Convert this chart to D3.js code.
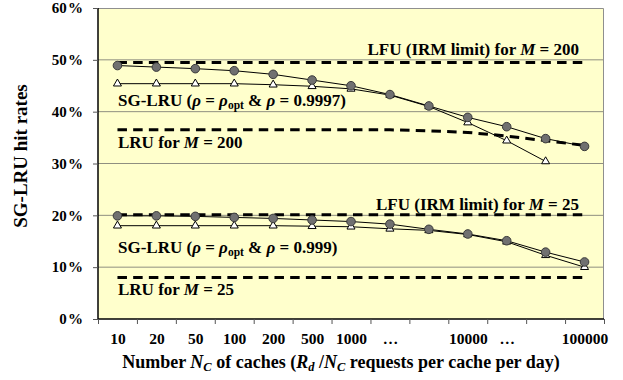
<!DOCTYPE html>
<html>
<head>
<meta charset="utf-8">
<script src="https://cdn.jsdelivr.net/npm/d3@7"></script>
<style>
    body { margin: 0; background: #fff; }
    svg text { font-family: "Liberation Serif", "Times New Roman", serif; font-weight: bold; fill: #000; }
</style>
</head>
<body>
<div id="chart"></div>
<script>
// x categories (number of caches), one slot per band
const categories = ["10", "20", "50", "100", "200", "500", "1000", "\u2026", "", "10000", "\u2026", "", "100000"];

// hit rates in %
const sgM200Opt = [48.9, 48.6, 48.3, 47.9, 47.2, 46.1, 45.0, 43.3, 41.1, 38.9, 37.1, 34.8, 33.3];
const sgM200Fix = [45.4, 45.4, 45.4, 45.4, 45.2, 44.9, 44.4, 43.2, 41.0, 37.9, 34.4, 30.4];
const lfuM200 = [49.5, 49.5, 49.5, 49.5, 49.5, 49.5, 49.5, 49.5, 49.5, 49.5, 49.5, 49.5, 49.5];
const lruM200 = [36.5, 36.5, 36.5, 36.5, 36.5, 36.5, 36.5, 36.5, 36.3, 36.0, 35.3, 34.4, 33.5];

const sgM25Opt = [19.9, 19.9, 19.8, 19.6, 19.4, 19.1, 18.8, 18.3, 17.3, 16.4, 15.1, 12.9, 11.0];
const sgM25Fix = [18.0, 18.0, 18.0, 18.0, 18.0, 17.9, 17.8, 17.4, 17.1, 16.3, 14.9, 12.3, 10.0];
const lfuM25 = [20.1, 20.1, 20.1, 20.1, 20.1, 20.1, 20.1, 20.1, 20.1, 20.1, 20.1, 20.1, 20.1];
const lruM25 = [8.0, 8.0, 8.0, 8.0, 8.0, 8.0, 8.0, 8.0, 8.0, 8.0, 8.0, 8.0, 8.0];

const yTicks = [0, 10, 20, 30, 40, 50, 60];

const W = 623, H = 380;
const margin = {top: 8, right: 19, bottom: 61, left: 98};
const width = W - margin.left - margin.right;
const height = H - margin.top - margin.bottom;
const FONT = '"Liberation Serif", "Times New Roman", serif';

const svg = d3.select("#chart").append("svg")
    .attr("width", W)
    .attr("height", H);

const g = svg.append("g")
    .attr("transform", `translate(${margin.left},${margin.top})`);

const x = d3.scaleLinear()
    .domain([-0.5, categories.length - 0.5])
    .range([0, width]);

const y = d3.scaleLinear()
    .domain([0, 60])
    .range([height, 0]);

// plot background
g.append("rect")
    .attr("width", width)
    .attr("height", height)
    .attr("fill", "#ffffcc");

// grid lines
g.selectAll(".grid")
    .data(yTicks.filter(d => d > 0 && d < 60))
    .enter().append("line")
    .attr("x1", 0)
    .attr("x2", width)
    .attr("y1", d => y(d))
    .attr("y2", d => y(d))
    .attr("stroke", "#8f8f80")
    .attr("stroke-width", 1);

// top and right frame
g.append("path")
    .attr("d", `M0,0.5H${width - 0.5}V${height}`)
    .attr("fill", "none")
    .attr("stroke", "#8f8f8f");

// y axis
const yAxis = g.append("g")
    .call(d3.axisLeft(y).tickValues(yTicks).tickSize(5).tickPadding(10)
        .tickFormat(d => `${d}\u200A%`));
yAxis.select(".domain").attr("stroke", "#000").attr("stroke-width", 1.5).attr("d", `M0,0V${height}`);
yAxis.selectAll(".tick line").attr("stroke", "#555");
yAxis.selectAll("text").style("font-family", FONT).style("font-size", "15px");

// x axis: tick marks on band boundaries
const xAxis = g.append("g")
    .attr("transform", `translate(0,${height})`)
    .call(d3.axisBottom(x)
        .tickValues(d3.range(-0.5, categories.length, 1))
        .tickSize(5)
        .tickFormat(""));
xAxis.select(".domain").attr("stroke", "#000").attr("stroke-width", 1.5).attr("d", `M0,0H${width}`);
xAxis.selectAll(".tick line").attr("stroke", "#555");

// x labels at band centres
const xLabels = g.append("g")
    .attr("transform", `translate(0,${height})`)
    .call(d3.axisBottom(x)
        .tickValues(d3.range(categories.length))
        .tickSize(0)
        .tickPadding(14)
        .tickFormat(i => categories[i]));
xLabels.select(".domain").remove();
xLabels.selectAll("text").style("font-family", FONT).style("font-size", "15.5px");

// lines
const line = d3.line()
    .x((d, i) => x(i))
    .y(d => y(d));

function dashed(data) {
    g.append("path")
        .datum(data)
        .attr("fill", "none")
        .attr("stroke", "#000")
        .attr("stroke-width", 3)
        .attr("stroke-dasharray", "9.5,6.2")
        .attr("d", line);
}

function series(data, marker) {
    g.append("path")
        .datum(data)
        .attr("fill", "none")
        .attr("stroke", "#000")
        .attr("stroke-width", 1)
        .attr("d", line);

    if (marker === "circle") {
        g.selectAll(null)
            .data(data)
            .enter().append("circle")
            .attr("cx", (d, i) => x(i))
            .attr("cy", d => y(d))
            .attr("r", 4.3)
            .attr("fill", "#707070")
            .attr("stroke", "#3a3a3a")
            .attr("stroke-width", 1);
    } else {
        g.selectAll(null)
            .data(data)
            .enter().append("path")
            .attr("transform", (d, i) => `translate(${x(i)},${y(d)})`)
            .attr("d", d3.symbol(d3.symbolTriangle, 28))
            .attr("fill", "#fff")
            .attr("stroke", "#000")
            .attr("stroke-width", 1);
    }
}

dashed(lfuM200);
dashed(lruM200);
dashed(lfuM25);
dashed(lruM25);

series(sgM200Fix, "triangle");
series(sgM200Opt, "circle");
series(sgM25Fix, "triangle");
series(sgM25Opt, "circle");

// annotations
const fs = "17px";

function label(xPos, yPos, anchor) {
    return g.append("text")
        .attr("x", xPos)
        .attr("y", yPos)
        .attr("text-anchor", anchor)
        .style("font-family", FONT)
        .style("font-size", fs);
}

function lfuLabel(m, yPos) {
    const t = label(481, yPos, "end");
    t.append("tspan").text("LFU (IRM limit) for ");
    t.append("tspan").style("font-style", "italic").text("M");
    t.append("tspan").text(` = ${m}`);
}

function lruLabel(m, yPos) {
    const t = label(20, yPos, "start");
    t.append("tspan").text("LRU for ");
    t.append("tspan").style("font-style", "italic").text("M");
    t.append("tspan").text(` = ${m}`);
}

function sgLabel(rho, yPos) {
    const t = label(20, yPos, "start");
    t.append("tspan").text("SG-LRU (");
    t.append("tspan").style("font-style", "italic").text("\u03c1");
    t.append("tspan").text(" = ");
    t.append("tspan").style("font-style", "italic").text("\u03c1");
    t.append("tspan").attr("dy", 3).style("font-size", "11.5px").text("opt");
    t.append("tspan").attr("dy", -3).text(" & ");
    t.append("tspan").style("font-style", "italic").text("\u03c1");
    t.append("tspan").text(` = ${rho})`);
}

lfuLabel(200, 47);
sgLabel("0.9997", 97.5);
lruLabel(200, 140);
lfuLabel(25, 202);
sgLabel("0.999", 245);
lruLabel(25, 287);

// axis titles
svg.append("text")
    .attr("transform", "translate(27,156) rotate(-90)")
    .attr("text-anchor", "middle")
    .style("font-family", FONT)
    .style("font-size", "19px")
    .text("SG-LRU hit rates");

const xt = svg.append("text")
    .attr("x", 341)
    .attr("y", 368)
    .attr("text-anchor", "middle")
    .style("font-family", FONT)
    .style("font-size", "18px");
xt.append("tspan").text("Number ");
xt.append("tspan").style("font-style", "italic").text("N");
xt.append("tspan").attr("dy", 3).style("font-size", "12.5px").style("font-style", "italic").text("C");
xt.append("tspan").attr("dy", -3).text(" of caches (");
xt.append("tspan").style("font-style", "italic").text("R");
xt.append("tspan").attr("dy", 3).style("font-size", "12.5px").style("font-style", "italic").text("d");
xt.append("tspan").attr("dy", -3).text(" /");
xt.append("tspan").style("font-style", "italic").text("N");
xt.append("tspan").attr("dy", 3).style("font-size", "12.5px").style("font-style", "italic").text("C");
xt.append("tspan").attr("dy", -3).text(" requests per cache per day)");
</script>
</body>
</html>
